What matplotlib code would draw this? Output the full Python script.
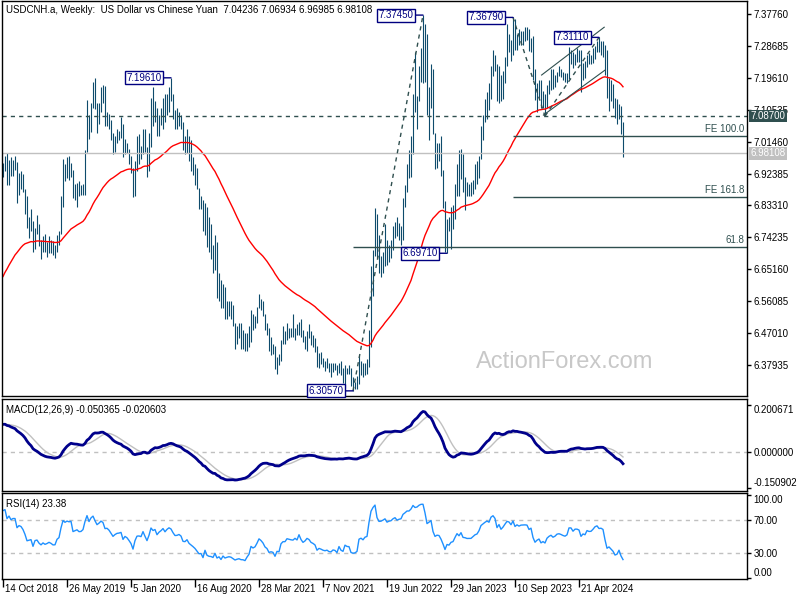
import numpy as np
import pandas as pd
import matplotlib
matplotlib.use("Agg")
import matplotlib.pyplot as plt
from matplotlib.transforms import blended_transform_factory as blend

plt.rcParams["font.family"] = ["Liberation Sans", "DejaVu Sans"]

FIRST_WEEK = "2018-10-14"

# weekly closes before the visible window (only used to warm up the indicators)
pre_close = [6.58, 6.62, 6.64, 6.63, 6.63, 6.64, 6.59, 6.61, 6.62, 6.61, 6.58, 6.51, 6.49,
             6.45, 6.42, 6.40, 6.31, 6.30, 6.34, 6.35, 6.36, 6.33, 6.33, 6.31, 6.28, 6.29,
             6.28, 6.29, 6.34, 6.32, 6.35, 6.35, 6.38, 6.41, 6.41, 6.45, 6.49, 6.64, 6.66,
             6.69, 6.78, 6.80, 6.83, 6.85, 6.88, 6.84, 6.82, 6.86, 6.85, 6.86, 6.88, 6.91, 6.93]

week_high = [
    # 2018
    6.955, 6.975, 6.981, 6.963, 6.972, 6.962, 6.975, 6.957, 6.925, 6.932, 6.922, 6.880,
    # 2019
    6.860, 6.800, 6.822, 6.790, 6.770, 6.805, 6.780, 6.735, 6.745, 6.752, 6.730, 6.745, 6.735,
    6.732, 6.722, 6.750, 6.760, 6.860, 6.965, 6.950, 6.970, 6.975, 6.955, 6.935, 6.893, 6.898,
    6.902, 6.890, 6.895, 6.992, 7.134, 7.090, 7.125, 7.185, 7.196, 7.125, 7.125, 7.170, 7.175,
    7.172, 7.100, 7.092, 7.075, 7.040, 7.030, 7.050, 7.045, 7.085, 7.065, 7.022, 7.012, 6.995,
    # 2020
    6.975, 6.940, 6.960, 7.030, 7.035, 7.002, 7.050, 7.050, 7.000, 7.040, 7.140, 7.170, 7.130,
    7.110, 7.090, 7.110, 7.138, 7.150, 7.150, 7.170, 7.1961, 7.150, 7.105, 7.110, 7.100, 7.090,
    7.070, 7.030, 7.050, 7.030, 7.020, 6.970, 6.950, 6.940, 6.882, 6.860, 6.850, 6.840, 6.830,
    6.800, 6.780, 6.720, 6.750, 6.730, 6.640, 6.620, 6.610, 6.600, 6.560, 6.560, 6.560, 6.550,
    # 2021
    6.500, 6.490, 6.500, 6.500, 6.480, 6.470, 6.470, 6.490, 6.535, 6.525, 6.520, 6.545, 6.580,
    6.568, 6.560, 6.525, 6.500, 6.485, 6.460, 6.440, 6.432, 6.402, 6.410, 6.450, 6.490, 6.475,
    6.500, 6.485, 6.485, 6.525, 6.485, 6.495, 6.502, 6.510, 6.480, 6.462, 6.475, 6.495, 6.475,
    6.465, 6.455, 6.432, 6.412, 6.415, 6.398, 6.392, 6.400, 6.385, 6.385, 6.385, 6.385, 6.380,
    # 2022
    6.385, 6.390, 6.372, 6.380, 6.372, 6.380, 6.370, 6.345, 6.332, 6.347, 6.405, 6.390, 6.385,
    6.385, 6.395, 6.480, 6.660, 6.705, 6.825, 6.808, 6.750, 6.690, 6.700, 6.780, 6.735, 6.720,
    6.735, 6.775, 6.785, 6.800, 6.782, 6.775, 6.855, 6.890, 6.950, 6.990, 7.030, 7.150, 7.270,
    7.145, 7.230, 7.280, 7.3745, 7.350, 7.320, 7.170, 7.235, 7.222, 7.040, 7.010, 7.010, 7.030,
    # 2023
    6.935, 6.845, 6.795, 6.800, 6.830, 6.835, 6.895, 6.950, 6.990, 6.995, 6.980, 6.915, 6.900,
    6.893, 6.900, 6.905, 6.950, 6.960, 6.975, 7.060, 7.090, 7.135, 7.155, 7.180, 7.230, 7.275,
    7.260, 7.235, 7.230, 7.205, 7.215, 7.255, 7.348, 7.320, 7.305, 7.3679, 7.362, 7.320, 7.335,
    7.330, 7.330, 7.340, 7.340, 7.335, 7.308, 7.315, 7.220, 7.180, 7.190, 7.190, 7.160, 7.150,
    # 2024
    7.175, 7.190, 7.222, 7.220, 7.205, 7.212, 7.230, 7.222, 7.212, 7.210, 7.210, 7.285, 7.275,
    7.270, 7.265, 7.282, 7.275, 7.275, 7.238, 7.245, 7.262, 7.268, 7.260, 7.280, 7.288, 7.300,
    7.3111, 7.300, 7.300, 7.290, 7.274, 7.195, 7.190, 7.178, 7.140, 7.135, 7.122, 7.115, 7.06934,
]

week_low = [
    # 2018
    6.913, 6.930, 6.892, 6.890, 6.918, 6.918, 6.935, 6.840, 6.862, 6.880, 6.872, 6.810,
    # 2019
    6.770, 6.740, 6.760, 6.700, 6.710, 6.752, 6.718, 6.680, 6.700, 6.700, 6.686, 6.698, 6.698,
    6.693, 6.685, 6.700, 6.722, 6.752, 6.830, 6.902, 6.911, 6.906, 6.915, 6.855, 6.850, 6.830,
    6.860, 6.862, 6.862, 6.862, 6.985, 7.022, 7.042, 7.110, 7.108, 7.040, 7.066, 7.100, 7.125,
    7.060, 7.060, 7.050, 7.020, 6.980, 6.985, 7.010, 7.018, 7.025, 6.970, 6.980, 6.982, 6.950,
    # 2020
    6.925, 6.856, 6.860, 6.930, 6.950, 6.965, 6.980, 6.985, 6.915, 6.930, 7.000, 7.060, 7.070,
    7.030, 7.030, 7.062, 7.050, 7.070, 7.090, 7.100, 7.130, 7.080, 7.050, 7.050, 7.060, 7.050,
    6.992, 6.980, 6.982, 6.960, 6.930, 6.920, 6.892, 6.880, 6.822, 6.822, 6.760, 6.750, 6.715,
    6.700, 6.680, 6.640, 6.650, 6.570, 6.560, 6.540, 6.540, 6.510, 6.510, 6.520, 6.510, 6.490,
    # 2021
    6.425, 6.440, 6.455, 6.425, 6.425, 6.420, 6.420, 6.430, 6.445, 6.480, 6.485, 6.500, 6.540,
    6.535, 6.520, 6.480, 6.465, 6.418, 6.408, 6.410, 6.368, 6.353, 6.380, 6.390, 6.440, 6.440,
    6.450, 6.455, 6.458, 6.460, 6.450, 6.465, 6.465, 6.460, 6.445, 6.425, 6.420, 6.455, 6.437,
    6.430, 6.415, 6.375, 6.372, 6.382, 6.375, 6.362, 6.372, 6.360, 6.345, 6.360, 6.365, 6.350,
    # 2022
    6.357, 6.350, 6.328, 6.315, 6.355, 6.355, 6.320, 6.3057, 6.310, 6.310, 6.325, 6.350, 6.345,
    6.350, 6.355, 6.375, 6.430, 6.575, 6.690, 6.685, 6.640, 6.630, 6.640, 6.660, 6.665, 6.672,
    6.685, 6.705, 6.740, 6.745, 6.735, 6.720, 6.735, 6.830, 6.870, 6.910, 6.915, 6.980, 7.100,
    7.050, 7.130, 7.185, 7.180, 7.185, 7.090, 7.020, 7.110, 7.035, 6.938, 6.940, 6.960, 6.918,
    # 2023
    6.825, 6.700, 6.6971, 6.760, 6.708, 6.765, 6.795, 6.860, 6.860, 6.908, 6.870, 6.820, 6.860,
    6.860, 6.860, 6.865, 6.880, 6.895, 6.910, 6.965, 7.020, 7.070, 7.080, 7.105, 7.135, 7.200,
    7.215, 7.130, 7.125, 7.130, 7.135, 7.180, 7.230, 7.270, 7.245, 7.260, 7.275, 7.275, 7.290,
    7.290, 7.290, 7.302, 7.305, 7.271, 7.270, 7.190, 7.133, 7.100, 7.138, 7.110, 7.110, 7.0870,
    # 2024
    7.110, 7.150, 7.162, 7.165, 7.170, 7.185, 7.200, 7.198, 7.190, 7.185, 7.180, 7.192, 7.235,
    7.225, 7.232, 7.240, 7.240, 7.157, 7.190, 7.195, 7.228, 7.235, 7.234, 7.238, 7.250, 7.270,
    7.270, 7.262, 7.254, 7.205, 7.140, 7.103, 7.130, 7.110, 7.083, 7.065, 7.080, 7.035, 6.96985,
]

week_close = [
    # 2018
    6.938, 6.963, 6.909, 6.955, 6.930, 6.950, 6.950, 6.885, 6.912, 6.905, 6.882, 6.842,
    # 2019
    6.778, 6.783, 6.788, 6.712, 6.763, 6.768, 6.733, 6.712, 6.728, 6.712, 6.718, 6.727, 6.717,
    6.702, 6.703, 6.738, 6.750, 6.835, 6.934, 6.921, 6.940, 6.935, 6.942, 6.866, 6.875, 6.885,
    6.871, 6.873, 6.890, 6.985, 7.092, 7.045, 7.118, 7.160, 7.120, 7.083, 7.110, 7.148, 7.135,
    7.078, 7.083, 7.065, 7.035, 7.002, 7.022, 7.035, 7.038, 7.045, 6.980, 7.008, 6.995, 6.968,
    # 2020
    6.935, 6.862, 6.940, 6.990, 6.992, 6.985, 7.042, 6.992, 6.940, 7.002, 7.112, 7.082, 7.098,
    7.035, 7.072, 7.095, 7.128, 7.092, 7.128, 7.152, 7.140, 7.102, 7.070, 7.072, 7.082, 7.066,
    7.008, 7.005, 7.022, 6.982, 6.962, 6.942, 6.918, 6.882, 6.840, 6.842, 6.768, 6.822, 6.728,
    6.705, 6.700, 6.680, 6.710, 6.610, 6.620, 6.552, 6.580, 6.532, 6.538, 6.542, 6.532, 6.502,
    # 2021
    6.470, 6.475, 6.478, 6.460, 6.458, 6.442, 6.460, 6.475, 6.522, 6.505, 6.512, 6.535, 6.565,
    6.551, 6.530, 6.492, 6.475, 6.428, 6.432, 6.425, 6.372, 6.400, 6.395, 6.445, 6.460, 6.460,
    6.480, 6.476, 6.472, 6.470, 6.480, 6.470, 6.500, 6.470, 6.450, 6.458, 6.472, 6.465, 6.447,
    6.440, 6.430, 6.390, 6.398, 6.392, 6.384, 6.380, 6.382, 6.372, 6.370, 6.376, 6.373, 6.360,
    # 2022
    6.378, 6.357, 6.350, 6.370, 6.363, 6.362, 6.327, 6.322, 6.323, 6.327, 6.368, 6.372, 6.365,
    6.375, 6.378, 6.455, 6.600, 6.700, 6.795, 6.700, 6.665, 6.670, 6.690, 6.715, 6.688, 6.705,
    6.712, 6.745, 6.765, 6.748, 6.762, 6.770, 6.850, 6.885, 6.930, 6.930, 6.985, 7.125, 7.110,
    7.130, 7.210, 7.263, 7.267, 7.202, 7.100, 7.130, 7.165, 7.035, 6.960, 6.980, 6.975, 6.920,
    # 2023
    6.835, 6.712, 6.783, 6.770, 6.810, 6.820, 6.882, 6.945, 6.912, 6.965, 6.890, 6.885, 6.873,
    6.873, 6.874, 6.895, 6.918, 6.928, 6.970, 7.048, 7.075, 7.105, 7.128, 7.118, 7.220, 7.255,
    7.232, 7.143, 7.198, 7.145, 7.183, 7.240, 7.298, 7.292, 7.264, 7.340, 7.280, 7.312, 7.298,
    7.316, 7.318, 7.320, 7.318, 7.280, 7.297, 7.203, 7.140, 7.162, 7.175, 7.125, 7.138, 7.120,
    # 2024
    7.168, 7.188, 7.200, 7.180, 7.190, 7.210, 7.214, 7.208, 7.200, 7.195, 7.205, 7.265, 7.265,
    7.244, 7.262, 7.262, 7.257, 7.218, 7.235, 7.230, 7.260, 7.255, 7.256, 7.270, 7.288, 7.295,
    7.283, 7.285, 7.280, 7.228, 7.163, 7.170, 7.150, 7.130, 7.087, 7.091, 7.110, 7.042, 6.98108,
]

price_ticks = [7.37760, 7.28685, 7.19610, 7.10535, 7.01460, 6.92385, 6.83310,
               6.74235, 6.65160, 6.56085, 6.47010, 6.37935]
macd_ticks = [-0.150902, 0.0, 0.200671]
rsi_ticks = [0.0, 30.0, 70.0, 100.0]

level_line = 7.08700
last_price = 6.98108
fe_levels = [("FE 100.0", 7.0302), ("FE 161.8", 6.8566)]
fe_start = 255
retrace_label, retrace_level, retrace_start = "61.8", 6.7140, 175

# swing points: (week index, price) -> boxed labels
swing_idx = [84, 175, 210, 222, 255, 298]
swing_px = [7.19610, 6.30570, 7.37450, 6.69710, 7.36790, 7.31110]

# dashed wave lines and solid channel, as (week, price) pairs
wave_lines = [((175, 6.3057), (210, 7.3745)),
              ((255, 7.3679), (271, 7.0870)),
              ((271, 7.0870), (298, 7.3111))]
channel_lines = [((269.3, 7.204), (300.6, 7.340)),
                 ((270.2, 7.090), (301.0, 7.218))]

title_txt = "USDCNH.a, Weekly:  US Dollar vs Chinese Yuan  7.04236 7.06934 6.96985 6.98108"
macd_txt = "MACD(12,26,9) -0.050365 -0.020603"
rsi_txt = "RSI(14) 23.38"

assert len(week_high) == len(week_low) == len(week_close)

BAR = "#0e4b6c"
SLATE = "#2f4f4f"
NAVY = "#000080"
SILVER = "#c0c0c0"

# ---- indicators on the full series, then keep the visible part
n = len(week_close)
close_all = pd.Series(pre_close + week_close)
ema55 = close_all.ewm(span=55, adjust=False).mean().iloc[-n:].to_numpy()
macd_all = close_all.ewm(span=12, adjust=False).mean() - close_all.ewm(span=26, adjust=False).mean()
sig_all = macd_all.rolling(9).mean()
macd = macd_all.iloc[-n:].to_numpy(); sig = sig_all.iloc[-n:].to_numpy()
d = close_all.diff()
up = d.clip(lower=0).ewm(alpha=1 / 14, adjust=False).mean()
dn = (-d.clip(upper=0)).ewm(alpha=1 / 14, adjust=False).mean()
rsi = (100 - 100 / (1 + up / dn)).iloc[-n:].to_numpy()

idx = np.arange(n)
dates = pd.date_range(FIRST_WEEK, periods=n, freq="7D")

# ---- layout in pixels of an 800x600 canvas
W, H = 800, 600
fig = plt.figure(figsize=(8, 6), dpi=100)
fig.patch.set_facecolor("white")


def panel(top, bottom):
    return fig.add_axes([2 / W, 1 - bottom / H, 745 / W, (bottom - top) / H])


ax = panel(1, 396)
axm = panel(399, 491)
axr = panel(493, 579)

for a in (ax, axm, axr):
    a.set_xlim(-0.5, 372)
    for s in a.spines.values():
        s.set_color("black"); s.set_linewidth(1)
    a.yaxis.tick_right()
    a.tick_params(axis="y", direction="out", length=3, width=1, labelsize=7, pad=1.5,
                  colors="black")
    a.tick_params(axis="x", bottom=False, labelbottom=False)

# ---- main price panel
ax.set_ylim(6.2911, 7.4146)
ax.vlines(idx, week_low, week_high, color=BAR, lw=0.8)
ax.plot(idx, ema55, color="red", lw=1)

ax.axhline(level_line, color=SLATE, lw=1, ls=(0, (3, 3)))
ax.axhline(last_price, color=SILVER, lw=1)
for name, lv in fe_levels:
    ax.hlines(lv, fe_start, 372, color=SLATE, lw=1)
    ax.annotate(name, xy=(1, lv), xycoords=("axes fraction", "data"), xytext=(-2, 1.5),
                textcoords="offset points", ha="right", va="bottom", fontsize=7, color=SLATE)
ax.hlines(retrace_level, retrace_start, 372, color=SLATE, lw=1)
ax.annotate(retrace_label, xy=(1, retrace_level), xycoords=("axes fraction", "data"),
            xytext=(-2, 1.5), textcoords="offset points", ha="right", va="bottom",
            fontsize=7, color=SLATE)

for (x0, y0), (x1, y1) in wave_lines:
    ax.plot([x0, x1], [y0, y1], color=SLATE, lw=1, ls=(0, (3, 3)))
for (x0, y0), (x1, y1) in channel_lines:
    ax.plot([x0, x1], [y0, y1], color=SLATE, lw=0.8)

for i, p in zip(swing_idx, swing_px):
    ax.annotate(f"{p:.5f}", xy=(i, p), xytext=(-7, 0), textcoords="offset points",
                ha="right", va="center", fontsize=7, color=NAVY,
                bbox=dict(boxstyle="square,pad=0.15", fc="white", ec=NAVY, lw=1),
                arrowprops=dict(arrowstyle="-", color=NAVY, lw=1, shrinkA=0, shrinkB=0))

ax.set_yticks(price_ticks)
ax.set_yticklabels([f"{v:.5f}" for v in price_ticks])

for txt, lv, bg in ((f"{level_line:.5f}", level_line, SLATE), (f"{last_price:.5f}", last_price, SILVER)):
    ax.annotate(txt, xy=(1, lv), xycoords=("axes fraction", "data"), xytext=(2.5, 0),
                textcoords="offset points", ha="left", va="center", fontsize=7, color="white",
                bbox=dict(boxstyle="square,pad=0.12", fc=bg, ec="none"), annotation_clip=False,
                zorder=5)

ax.text(4 / 745, 0.99, title_txt, transform=ax.transAxes, ha="left", va="top", fontsize=7)
ax.text(0.755, 0.085, "ActionForex.com", transform=ax.transAxes, ha="center", va="center",
        fontsize=17, color="#c8c8c8")

# ---- MACD panel
axm.set_ylim(-0.165, 0.225)
axm.axhline(0, color=SILVER, lw=1, ls=(0, (3, 3)))
axm.plot(idx, sig, color=SILVER, lw=1)
axm.plot(idx, macd, color="#00008b", lw=2)
axm.set_yticks(macd_ticks)
axm.set_yticklabels([f"{v:.6f}" for v in macd_ticks])
labs = axm.get_yticklabels()
labs[0].set_va("bottom"); labs[-1].set_va("top")
axm.text(4 / 745, 0.93, macd_txt, transform=axm.transAxes, ha="left", va="top", fontsize=7)

# ---- RSI panel
axr.set_ylim(-1.2, 102.4)
for lv in (30, 70):
    axr.axhline(lv, color=SILVER, lw=1, ls=(0, (3, 3)))
axr.plot(idx, rsi, color="#1e90ff", lw=1)
axr.set_yticks(rsi_ticks)
axr.set_yticklabels([f"{v:.2f}" for v in rsi_ticks])
labs = axr.get_yticklabels()
labs[0].set_va("bottom"); labs[-1].set_va("top")
axr.text(4 / 745, 0.93, rsi_txt, transform=axr.transAxes, ha="left", va="top", fontsize=7)

# date axis, MT4 style: tick then label to its right
pos = idx[::32]
axr.set_xticks(pos)
axr.tick_params(axis="x", bottom=True, direction="out", length=6, width=1, labelbottom=False)
tr = blend(axr.transData, axr.transAxes)
for p in pos:
    dt = dates[p]
    axr.text(p + 0.8, -0.06, f"{dt.day} {dt:%b %Y}", transform=tr, ha="left", va="top",
             fontsize=7)

fig.savefig("out.png", dpi=100)
